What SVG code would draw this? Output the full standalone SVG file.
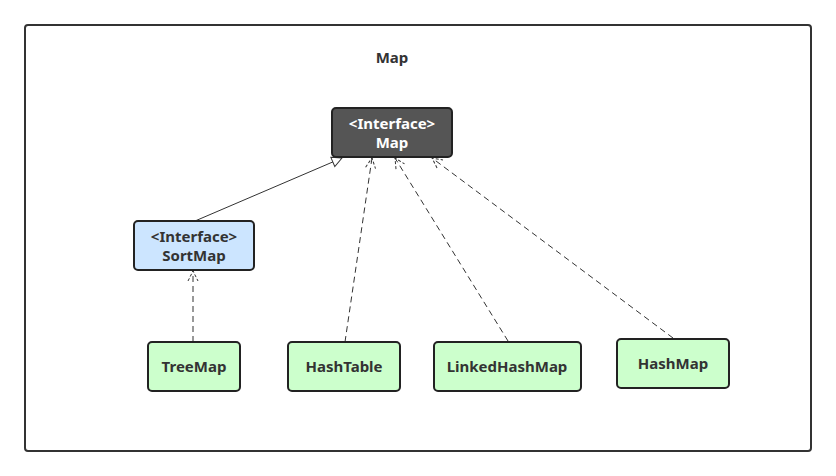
<svg xmlns="http://www.w3.org/2000/svg" width="836" height="476" viewBox="0 0 836 476">
<style>
text{font-family:"Noto Sans","Open Sans","DejaVu Sans",sans-serif;font-weight:bold;font-size:15px;text-anchor:middle;fill:#333}
.node{stroke:#222;stroke-width:2}
.green{fill:#ccffcc}
.conn{fill:none;stroke:#333;stroke-width:1}
.dash{stroke-dasharray:6,4}
</style>
<defs>
<marker id="tri" viewBox="0 0 12 12" refX="11" refY="6" markerWidth="12" markerHeight="12" markerUnits="userSpaceOnUse" orient="auto">
<path d="M1,1 L11,6 L1,11 Z" fill="#fff" stroke="#333" stroke-width="1"/>
</marker>
<marker id="tri2" viewBox="0 0 12 12" refX="11" refY="6" markerWidth="12" markerHeight="12" markerUnits="userSpaceOnUse" orient="auto">
<path d="M1,1 L11,6 L1,11" fill="none" stroke="#333" stroke-width="1" stroke-dasharray="3,2"/>
</marker>
</defs>
<rect x="0" y="0" width="836" height="476" fill="#fff"/>
<rect x="25" y="25" width="786" height="426" rx="3" fill="#fff" stroke="#333" stroke-width="2"/>
<text x="392" y="63" font-size="17">Map</text>
<g id="connectors">
<path class="conn" d="M195,221 L342,158" marker-end="url(#tri)"/>
<path class="conn dash" d="M193,342 L193,271" marker-end="url(#tri2)"/>
<path class="conn dash" d="M345,342 L372,158" marker-end="url(#tri2)"/>
<path class="conn dash" d="M508,341 L395,158" marker-end="url(#tri2)"/>
<path class="conn dash" d="M673,338 L432,158" marker-end="url(#tri2)"/>
</g>
<g id="map">
<rect class="node" x="332" y="108" width="120" height="49" rx="4" fill="#555"/>
<text x="392" y="129" style="fill:#fff">&lt;Interface&gt;</text>
<text x="392" y="148" style="fill:#fff">Map</text>
</g>
<g id="sortmap">
<rect class="node" x="134" y="221" width="120" height="49" rx="4" fill="#cce5ff"/>
<text x="194" y="242">&lt;Interface&gt;</text>
<text x="194" y="261">SortMap</text>
</g>
<g id="treemap">
<rect class="node green" x="148" y="342" width="92" height="49" rx="4"/>
<text x="194" y="372">TreeMap</text>
</g>
<g id="hashtable">
<rect class="node green" x="288" y="342" width="112" height="49" rx="4"/>
<text x="344" y="372">HashTable</text>
</g>
<g id="linkedhashmap">
<rect class="node green" x="434" y="342" width="147" height="49" rx="4"/>
<text x="507" y="372">LinkedHashMap</text>
</g>
<g id="hashmap">
<rect class="node green" x="617" y="339" width="112" height="49" rx="4"/>
<text x="673" y="369">HashMap</text>
</g>
</svg>
